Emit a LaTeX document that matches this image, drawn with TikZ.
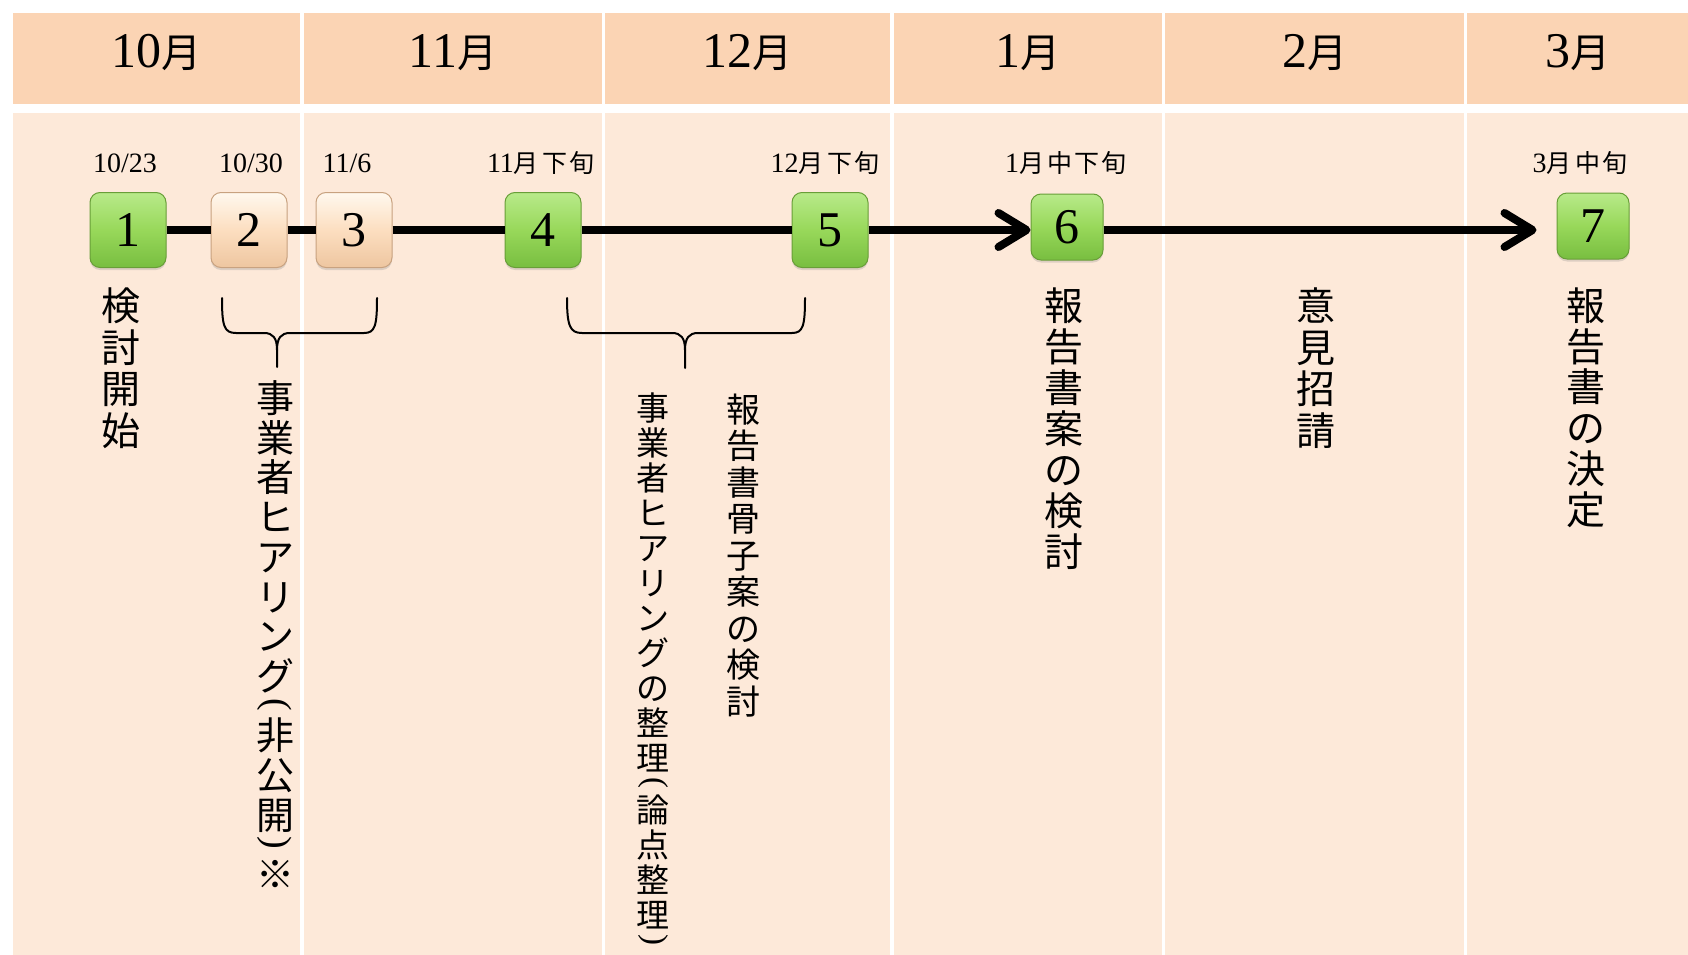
\documentclass[tikz,border=0pt]{standalone}
\usepackage{fontspec}
\setmainfont{Liberation Serif}
\newfontfamily\cjk{Noto Sans CJK JP}
\usepackage{graphicx}
\usetikzlibrary{arrows.meta,shadows}

\definecolor{hdrfill}{HTML}{FBD4B4}
\definecolor{bodyfill}{HTML}{FDE9D9}
\definecolor{gtop}{RGB}{184,234,138}
\definecolor{gmid}{RGB}{152,216,90}
\definecolor{gbot}{RGB}{120,190,64}
\definecolor{gedge}{RGB}{104,158,56}
\definecolor{ptop}{RGB}{255,248,238}
\definecolor{pmid}{RGB}{252,222,192}
\definecolor{pbot}{RGB}{238,198,160}
\definecolor{pedge}{RGB}{200,162,128}

\newlength\vtK
\newlength\vtk
\newcommand\vtc[2]{\hbox to 1.3em{\hss\vrule width0pt height\dimexpr0.38em+0.5#1\relax depth\dimexpr0.5#1-0.38em\relax #2\hss}}
\def\Ks#1{\Ksloop#1\relax}
\def\Ksloop#1{\ifx#1\relax\else\vtc{\vtK}{#1}\expandafter\Ksloop\fi}
\def\Kk#1{\Kkloop#1\relax}
\def\Kkloop#1{\ifx#1\relax\else\vtc{\vtk}{#1}\expandafter\Kkloop\fi}
\newcommand\vtp[1]{\vbox to 0.5\vtK{\vss\hbox to 1.3em{\hss\rotatebox[origin=c]{-90}{\rmfamily #1}\hss}\vss}}
\newcommand\vtext[4]{{\cjk\fontsize{#1}{#1}\selectfont\setlength\vtK{#2}\setlength\vtk{#3}\vbox{\offinterlineskip #4}}}
\newcommand\hm[1]{{\fontsize{50}{50}\selectfont #1}{\cjk\fontsize{40}{40}\selectfont 月}}
\newcommand\jd[1]{{\cjk\fontsize{25}{25}\selectfont #1}}

\tikzset{
  boxbase/.style={rounded corners=10pt, inner sep=0pt, line width=1pt,
    font=\fontsize{50}{50}\selectfont,
    drop shadow={shadow xshift=0pt, shadow yshift=-2.5pt, opacity=0.25}},
  gbox/.style={boxbase, minimum width=76pt, minimum height=75pt,
    top color=gtop, bottom color=gbot, middle color=gmid, draw=gedge},
  gboxs/.style={gbox, minimum width=72pt, minimum height=66pt},
  pbox/.style={boxbase, minimum width=76pt, minimum height=75pt,
    top color=ptop, bottom color=pbot, middle color=pmid, draw=pedge},
  hdr/.style={anchor=base, inner sep=0pt},
  datel/.style={anchor=base, inner sep=0pt, font=\fontsize{28}{28}\selectfont},
  vt/.style={anchor=north, inner sep=0pt},
  tl/.style={line width=8pt},
  tla/.style={line width=8pt, -{Straight Barb[length=28pt,width=34pt,round]}},
  brace/.style={line width=2pt, line cap=round}
}

\begin{document}
\begin{tikzpicture}[x=1pt,y=-1pt]
\useasboundingbox (0,0) rectangle (1688,955);
\fill[white] (0,0) rectangle (1688,955);

% header cells
\fill[hdrfill] (13,13) rectangle (300,104);
\fill[hdrfill] (304,13) rectangle (602,104);
\fill[hdrfill] (605,13) rectangle (890,104);
\fill[hdrfill] (894,13) rectangle (1162,104);
\fill[hdrfill] (1165,13) rectangle (1464,104);
\fill[hdrfill] (1467,13) rectangle (1688,104);
% body cells
\fill[bodyfill] (13,113) rectangle (300,955);
\fill[bodyfill] (304,113) rectangle (602,955);
\fill[bodyfill] (605,113) rectangle (890,955);
\fill[bodyfill] (894,113) rectangle (1162,955);
\fill[bodyfill] (1165,113) rectangle (1464,955);
\fill[bodyfill] (1467,113) rectangle (1688,955);

% month headers
\node[hdr] (h10) at (156.5,68) {\hm{10}};
\node[hdr] (h11) at (453,68) {\hm{11}};
\node[hdr] (h12) at (747.5,68) {\hm{12}};
\node[hdr] (h1) at (1028,68) {\hm{1}};
\node[hdr] (h2) at (1314.5,68) {\hm{2}};
\node[hdr] (h3) at (1577.5,68) {\hm{3}};

% dates
\node[datel] (d1) at (125,172) {10/23};
\node[datel] (d2) at (251,172) {10/30};
\node[datel] (d3) at (347,172) {11/6};
\node[datel] (d4) at (541,172) {11\jd{月}\hspace{4pt}\jd{下}\hspace{2pt}\jd{旬}};
\node[datel] (d5) at (825,172) {12\jd{月}\hspace{4pt}\jd{下}\hspace{2pt}\jd{旬}};
\node[datel] (d6) at (1066,172) {1\jd{月}\hspace{4pt}\jd{中}\hspace{2pt}\jd{下}\hspace{2pt}\jd{旬}};
\node[datel] (d7) at (1580,172) {3\jd{月}\hspace{4pt}\jd{中}\hspace{2pt}\jd{旬}};

% step boxes
\node[gbox] (b1) at (128,230) {1};
\node[pbox] (b2) at (249,230) {2};
\node[pbox] (b3) at (354,230) {3};
\node[gbox] (b4) at (543,230) {4};
\node[gbox] (b5) at (830,230) {5};
\node[gboxs] (b6) at (1067,227) {6};
\node[gboxs] (b7) at (1593,226) {7};

% timeline
\draw[tl] (b1) -- (b2);
\draw[tl] (b2) -- (b3);
\draw[tl] (b3) -- (b4);
\draw[tl] (b4) -- (b5);
\draw[tla] (b5.east) -- (b5.east -| b6.west);
\draw[tla, shorten >=20pt] (b6.east |- b5.east) -- (b5.east -| b7.west);

% braces
\draw[brace] (222,298) .. controls (222,326) and (224,333) .. (236,333) -- (264,333)
  .. controls (273,333) and (277,338) .. (277,350) -- (277,367);
\draw[brace] (277,350) .. controls (277,338) and (281,333) .. (290,333) -- (364,333)
  .. controls (375,333) and (377,326) .. (377,298);
\draw[brace] (567,298) .. controls (567,326) and (570,333) .. (582,333) -- (672,333)
  .. controls (681,333) and (685,338) .. (685,350) -- (685,368);
\draw[brace] (685,350) .. controls (685,338) and (689,333) .. (698,333) -- (792,333)
  .. controls (803,333) and (805,326) .. (805,298);

% vertical texts
\node[vt] (t1) at (121,285) {\vtext{39}{41.5pt}{41.5pt}{\Ks{検討開始}}};
\node[vt] (t2) at (275,378) {\vtext{38}{39.7pt}{39.7pt}{\Ks{事業者}\Kk{ヒアリング}\vtp{(}\Ks{非公開}\vtp{)}\Ks{※}}};
\node[vt] (t3) at (653,390) {\vtext{33}{35pt}{35pt}{\Ks{事業者}\Kk{ヒアリングの}\Ks{整理}\vtp{(}\Ks{論点整理}\vtp{)}}};
\node[vt] (t4) at (743,391) {\vtext{34}{36.5pt}{36.5pt}{\Ks{報告書骨子案}\Kk{の}\Ks{検討}}};
\node[vt] (t5) at (1064,285) {\vtext{39}{41pt}{41pt}{\Ks{報告書案}\Kk{の}\Ks{検討}}};
\node[vt] (t6) at (1316,285) {\vtext{39}{41.5pt}{41.5pt}{\Ks{意見招請}}};
\node[vt] (t7) at (1586,285) {\vtext{39}{40.75pt}{40.75pt}{\Ks{報告書}\Kk{の}\Ks{決定}}};
\end{tikzpicture}
\end{document}
